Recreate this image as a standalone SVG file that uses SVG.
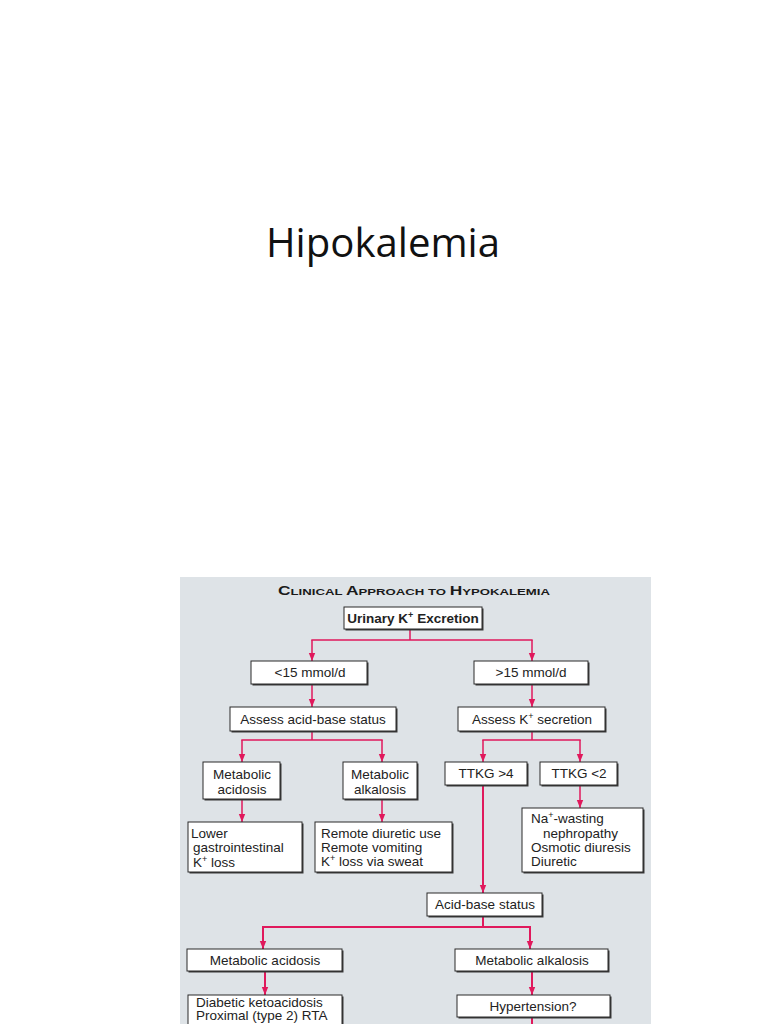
<svg xmlns="http://www.w3.org/2000/svg" width="768" height="1024" viewBox="0 0 768 1024">
<defs>
<marker id="ah" markerUnits="userSpaceOnUse" markerWidth="8" markerHeight="8" viewBox="0 0 8 8" refX="8" refY="4" orient="auto">
<path d="M0,0.8 L8,4 L0,7.2 Z" fill="#e0195c"/>
</marker>
<style>
.bx{fill:#fff;stroke:#2a2a2a;stroke-width:1}
.sh{fill:#3a3a3a}
.t{font-family:"Liberation Sans",Arial,sans-serif;font-size:13.5px;fill:#222}
.c{text-anchor:middle}
.ln{stroke:#e0195c;stroke-width:1.5;fill:none}
.lw{stroke:#e0195c;stroke-width:2;fill:none}
.sup{font-size:9px}
</style>
</defs>
<rect x="0" y="0" width="768" height="1024" fill="#fff"/>
<text x="383" y="257" font-family="'Open Sans','Noto Sans',sans-serif" font-size="40" fill="#111" text-anchor="middle" textLength="234" lengthAdjust="spacingAndGlyphs">Hipokalemia</text>

<rect x="180" y="577" width="471" height="447" fill="#dee3e7"/>
<text x="278" y="595" font-family="'Liberation Sans',Arial,sans-serif" font-weight="bold" fill="#1a1a1a" textLength="272" lengthAdjust="spacingAndGlyphs"><tspan font-size="12.5">C</tspan><tspan font-size="9.5">LINICAL </tspan><tspan font-size="12.5">A</tspan><tspan font-size="9.5">PPROACH TO </tspan><tspan font-size="12.5">H</tspan><tspan font-size="9.5">YPOKALEMIA</tspan></text>

<g id="connectors">
<path class="ln" d="M410 629 V640 M311.3 640 H532.7"/>
<path class="ln" d="M312 640 V661" marker-end="url(#ah)"/>
<path class="ln" d="M532 640 V661" marker-end="url(#ah)"/>
<path class="ln" d="M312 684 V707" marker-end="url(#ah)"/>
<path class="ln" d="M532 684 V707" marker-end="url(#ah)"/>
<path class="ln" d="M312 731 V740 M241.3 740 H382.7"/>
<path class="ln" d="M242 740 V762" marker-end="url(#ah)"/>
<path class="ln" d="M382 740 V762" marker-end="url(#ah)"/>
<path class="ln" d="M532 731 V740 M482.3 740 H580.7"/>
<path class="ln" d="M483 740 V762" marker-end="url(#ah)"/>
<path class="ln" d="M580 740 V762" marker-end="url(#ah)"/>
<path class="ln" d="M242 799 V822" marker-end="url(#ah)"/>
<path class="ln" d="M382 799 V822" marker-end="url(#ah)"/>
<path class="ln" d="M580 785 V808" marker-end="url(#ah)"/>
<path class="lw" d="M483 785 V893" marker-end="url(#ah)"/>
<path class="lw" d="M483 916 V927 M262 927 H531"/>
<path class="lw" d="M263 927 V949" marker-end="url(#ah)"/>
<path class="lw" d="M530 927 V949" marker-end="url(#ah)"/>
<path class="lw" d="M265 971 V995" marker-end="url(#ah)"/>
<path class="lw" d="M532 971 V995" marker-end="url(#ah)"/>
<path class="lw" d="M532 1017 V1024"/>
</g>

<g id="n-urinary">
<rect class="sh" x="345.5" y="608.5" width="138" height="22"/>
<rect class="bx" x="344" y="607" width="138" height="22"/>
<text class="t c" x="413" y="622.5" font-weight="bold" font-size="10.8">Urinary K<tspan class="sup" baseline-shift="super">+</tspan> Excretion</text>
</g>
<g id="n-lt15">
<rect class="sh" x="252.5" y="662.5" width="116" height="23"/>
<rect class="bx" x="251" y="661" width="116" height="23"/>
<text class="t c" x="310" y="677">&lt;15 mmol/d</text>
</g>
<g id="n-gt15">
<rect class="sh" x="475.5" y="662.5" width="114" height="23"/>
<rect class="bx" x="474" y="661" width="114" height="23"/>
<text class="t c" x="531" y="677">&gt;15 mmol/d</text>
</g>
<g id="n-assess-ab">
<rect class="sh" x="231.5" y="708.5" width="166" height="24"/>
<rect class="bx" x="230" y="707" width="166" height="24"/>
<text class="t c" x="313" y="724">Assess acid-base status</text>
</g>
<g id="n-assess-k">
<rect class="sh" x="459.5" y="708.5" width="147" height="24"/>
<rect class="bx" x="458" y="707" width="147" height="24"/>
<text class="t c" x="532" y="724">Assess K<tspan class="sup" baseline-shift="super">+</tspan> secretion</text>
</g>
<g id="n-met-acid1">
<rect class="sh" x="204.5" y="763.5" width="77" height="37"/>
<rect class="bx" x="203" y="762" width="77" height="37"/>
<text class="t c" x="242" y="779">Metabolic</text>
<text class="t c" x="242" y="794">acidosis</text>
</g>
<g id="n-met-alk1">
<rect class="sh" x="344.5" y="763.5" width="74" height="37"/>
<rect class="bx" x="343" y="762" width="74" height="37"/>
<text class="t c" x="380" y="779">Metabolic</text>
<text class="t c" x="380" y="794">alkalosis</text>
</g>
<g id="n-ttkg4">
<rect class="sh" x="446.5" y="763.5" width="82" height="23"/>
<rect class="bx" x="445" y="762" width="82" height="23"/>
<text class="t c" x="486" y="778">TTKG &gt;4</text>
</g>
<g id="n-ttkg2">
<rect class="sh" x="541.5" y="763.5" width="77" height="23"/>
<rect class="bx" x="540" y="762" width="77" height="23"/>
<text class="t c" x="579" y="778">TTKG  &lt;2</text>
</g>
<g id="n-lower-gi">
<rect class="sh" x="189.5" y="823.5" width="114" height="50"/>
<rect class="bx" x="188" y="822" width="114" height="50"/>
<text class="t" x="191" y="838">Lower</text>
<text class="t" x="193" y="852">gastrointestinal</text>
<text class="t" x="193" y="867">K<tspan class="sup" baseline-shift="super">+</tspan> loss</text>
</g>
<g id="n-remote">
<rect class="sh" x="316.5" y="823.5" width="137" height="50"/>
<rect class="bx" x="315" y="822" width="137" height="50"/>
<text class="t" x="321" y="838">Remote diuretic use</text>
<text class="t" x="321" y="852">Remote vomiting</text>
<text class="t" x="321" y="866">K<tspan class="sup" baseline-shift="super">+</tspan>  loss via sweat</text>
</g>
<g id="n-na-wasting">
<rect class="sh" x="523.5" y="809.5" width="121" height="64"/>
<rect class="bx" x="522" y="808" width="121" height="64"/>
<text class="t" x="531" y="823">Na<tspan class="sup" baseline-shift="super">+</tspan>-wasting</text>
<text class="t" x="543" y="838">nephropathy</text>
<text class="t" x="531" y="852">Osmotic diuresis</text>
<text class="t" x="531" y="866">Diuretic</text>
</g>
<g id="n-acid-base">
<rect class="sh" x="428.5" y="894.5" width="115" height="23"/>
<rect class="bx" x="427" y="893" width="115" height="23"/>
<text class="t c" x="485" y="909">Acid-base status</text>
</g>
<g id="n-met-acid2">
<rect class="sh" x="188.5" y="950.5" width="155" height="22"/>
<rect class="bx" x="187" y="949" width="155" height="22"/>
<text class="t c" x="265" y="965">Metabolic acidosis</text>
</g>
<g id="n-met-alk2">
<rect class="sh" x="456.5" y="950.5" width="153" height="22"/>
<rect class="bx" x="455" y="949" width="153" height="22"/>
<text class="t c" x="532" y="965">Metabolic alkalosis</text>
</g>
<g id="n-diabetic">
<rect class="sh" x="189.5" y="996.5" width="154" height="40"/>
<rect class="bx" x="188" y="995" width="154" height="40"/>
<text class="t" x="196" y="1007" font-size="12.5">Diabetic ketoacidosis</text>
<text class="t" x="196" y="1020" font-size="12.5">Proximal (type 2) RTA</text>
</g>
<g id="n-hypertension">
<rect class="sh" x="458.5" y="996.5" width="153" height="22"/>
<rect class="bx" x="457" y="995" width="153" height="22"/>
<text class="t c" x="533" y="1011">Hypertension?</text>
</g>
</svg>
